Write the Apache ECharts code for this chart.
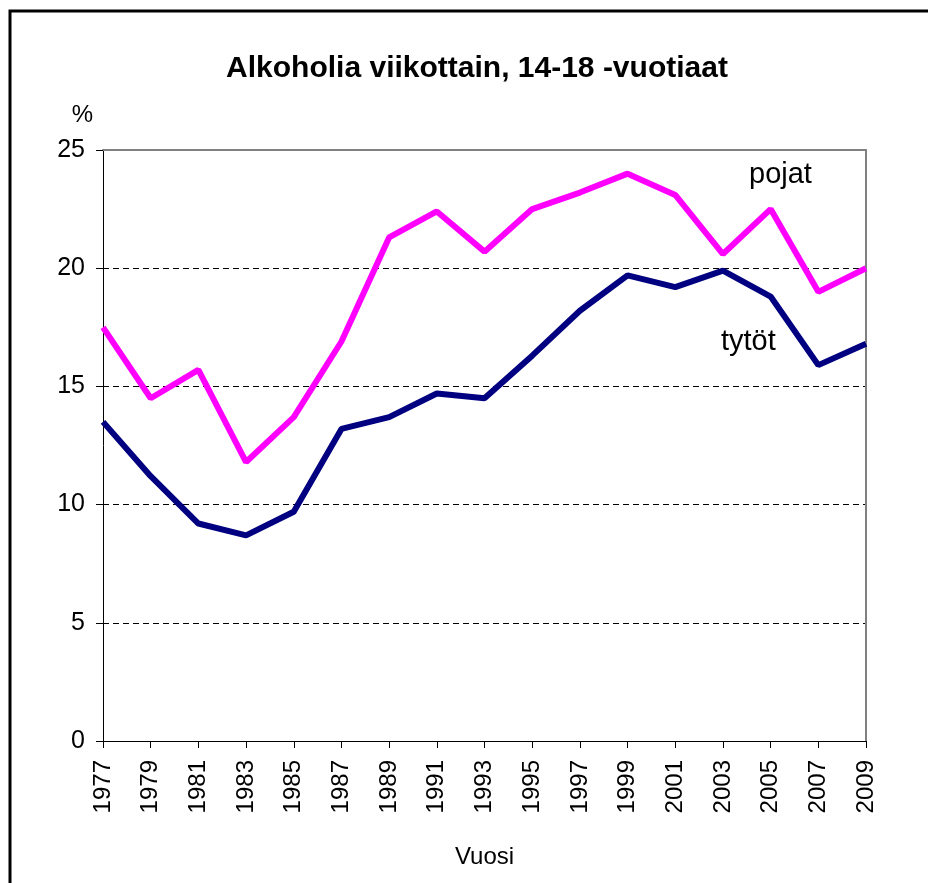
<!DOCTYPE html>
<html>
<head>
<meta charset="utf-8">
<script src="https://cdn.jsdelivr.net/npm/echarts@6/dist/echarts.min.js"></script>
<title>Alkoholia viikottain</title>
<style>
  body { margin: 0; background: #fff; }
</style>
</head>
<body>
<div id="chart" style="width:928px;height:883px"></div>
<script>
// vuodet ja osuudet (%)
var years = ["1977","1979","1981","1983","1985","1987","1989","1991","1993","1995","1997","1999","2001","2003","2005","2007","2009"];
var pojat = [17.5, 14.5, 15.7, 11.8, 13.7, 16.9, 21.3, 22.4, 20.7, 22.5, 23.2, 24.0, 23.1, 20.6, 22.5, 19.0, 20.0];
var tytot = [13.5, 11.2, 9.2, 8.7, 9.7, 13.2, 13.7, 14.7, 14.5, 16.3, 18.2, 19.7, 19.2, 19.9, 18.8, 15.9, 16.8];

var font = "Arial, 'Liberation Sans', sans-serif";

var chart = echarts.init(document.getElementById("chart"));
chart.setOption({
  animation: false,
  backgroundColor: "#fff",
  title: {
    text: "Alkoholia viikottain, 14-18 -vuotiaat",
    left: 472, top: 49, textAlign: "center",
    textStyle: { fontFamily: font, fontSize: 30, fontWeight: "bold", color: "#000" }
  },
  grid: { left: 103, top: 150, right: 62, bottom: 142 },
  xAxis: [{
    type: "category",
    data: years,
    boundaryGap: false,
    name: "Vuosi",
    nameLocation: "middle",
    nameGap: 104,
    nameTextStyle: { fontFamily: font, fontSize: 24, color: "#000" },
    axisLine: { lineStyle: { color: "#000", width: 1 } },
    axisTick: { length: 7, lineStyle: { color: "#000" } },
    axisLabel: { rotate: 90, margin: 19, fontFamily: font, fontSize: 24, color: "#000", interval: 0 },
    splitLine: { show: false }
  }, {
    type: "category",
    data: years,
    boundaryGap: false,
    position: "top",
    axisLine: { show: true, onZero: false, lineStyle: { color: "#808080", width: 2 } },
    axisTick: { show: false },
    axisLabel: { show: false },
    splitLine: { show: false }
  }],
  yAxis: [{
    type: "value",
    min: 0, max: 25, interval: 5,
    name: "%",
    nameLocation: "end",
    nameGap: 23,
    nameTextStyle: { fontFamily: font, fontSize: 24, color: "#000", align: "right", padding: [0, 10, 0, 0] },
    axisLine: { show: true, lineStyle: { color: "#000", width: 1 } },
    axisTick: { show: true, length: 7, lineStyle: { color: "#000" } },
    axisLabel: { margin: 18, fontFamily: font, fontSize: 25, color: "#000" },
    splitLine: { show: true, showMinLine: false, showMaxLine: false, lineStyle: { color: "#000", type: [6, 4], width: 1 } }
  }, {
    type: "value",
    min: 0, max: 25, interval: 5,
    position: "right",
    axisLine: { show: true, onZero: false, lineStyle: { color: "#808080", width: 2 } },
    axisTick: { show: false },
    axisLabel: { show: false },
    splitLine: { show: false }
  }],
  series: [{
    name: "pojat",
    type: "line",
    data: pojat,
    symbol: "none",
    lineStyle: { color: "#ff00ff", width: 6 },
    itemStyle: { color: "#ff00ff" },
    z: 3
  }, {
    name: "tytöt",
    type: "line",
    data: tytot,
    symbol: "none",
    lineStyle: { color: "#000080", width: 6 },
    itemStyle: { color: "#000080" },
    z: 4
  }],
  graphic: [
    { type: "rect", shape: { x: 10, y: 11, width: 1000, height: 1000 },
      style: { fill: null, stroke: "#000", lineWidth: 3 }, silent: true },
    { type: "text", x: 749, y: 175,
      style: { text: "pojat", font: "29px " + font, fill: "#000", verticalAlign: "middle" } },
    { type: "text", x: 721, y: 342,
      style: { text: "tytöt", font: "29px " + font, fill: "#000", verticalAlign: "middle" } }
  ]
});
</script>
</body>
</html>
